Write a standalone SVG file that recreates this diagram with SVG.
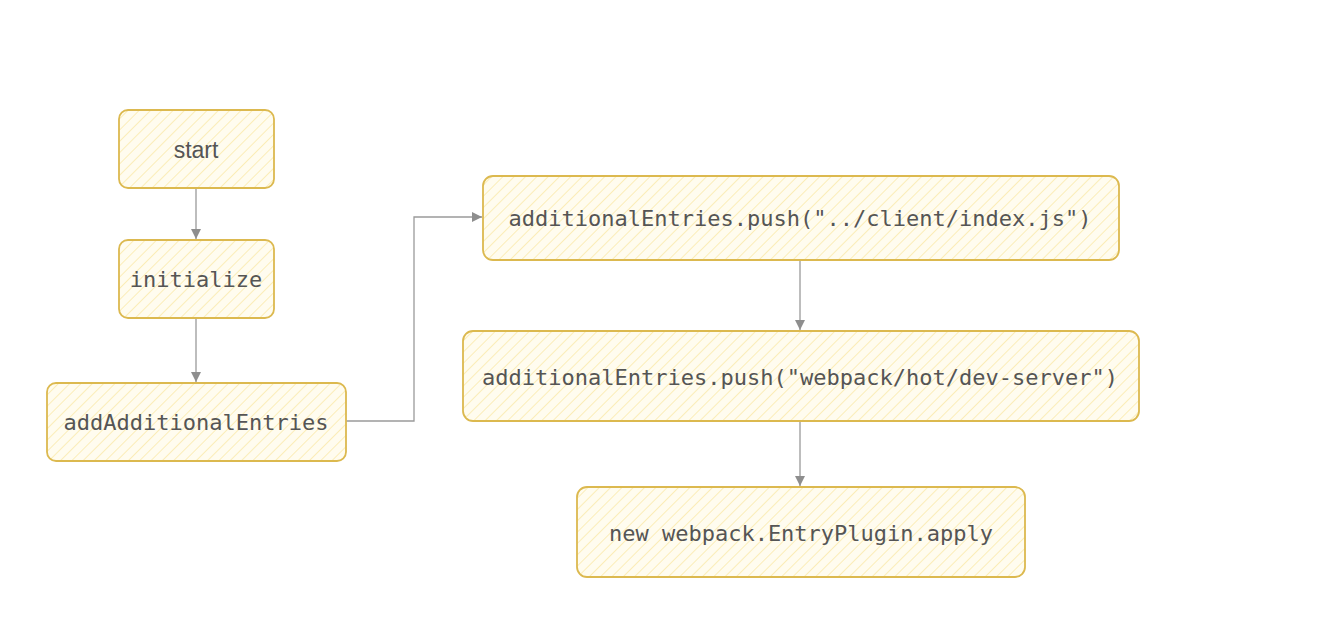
<svg xmlns="http://www.w3.org/2000/svg" width="1332" height="634" viewBox="0 0 1332 634">
<defs>
<pattern id="hatch" patternUnits="userSpaceOnUse" width="8" height="8" patternTransform="rotate(45)">
<rect width="8" height="8" fill="#fffcef"/>
<line x1="0" y1="0" x2="0" y2="8" stroke="#fbedb8" stroke-width="2"/>
</pattern>
<marker id="arr" viewBox="0 0 10 10" refX="10" refY="5" markerWidth="10" markerHeight="10" markerUnits="userSpaceOnUse" orient="auto">
<path d="M0,0 L10,5 L0,10 z" fill="#8e8e8e"/>
</marker>
</defs>
<style>
.box{fill:url(#hatch);stroke:#dcb94f;stroke-width:1.8}
.t{font-family:"DejaVu Sans Mono","Liberation Mono",monospace;font-size:22px;fill:#555555;text-anchor:middle;dominant-baseline:central}
.h{font-family:"Liberation Sans",sans-serif;font-size:23px;fill:#555555;text-anchor:middle;dominant-baseline:central}
.c{fill:none;stroke:#9a9a9a;stroke-width:1.3}
</style>
<rect width="1332" height="634" fill="#ffffff"/>
<g id="connectors">
<path class="c" d="M196,188 L196,239" marker-end="url(#arr)"/>
<path class="c" d="M196,318 L196,382" marker-end="url(#arr)"/>
<path class="c" d="M346,421 L414,421 L414,217 L482,217" marker-end="url(#arr)"/>
<path class="c" d="M800,260 L800,330" marker-end="url(#arr)"/>
<path class="c" d="M800,421 L800,486" marker-end="url(#arr)"/>
</g>
<g id="start">
<rect class="box" x="119" y="110" width="155" height="78" rx="9"/>
<text class="h" x="196" y="150">start</text>
</g>
<g id="initialize">
<rect class="box" x="119" y="240" width="155" height="78" rx="9"/>
<text class="t" x="196" y="279">initialize</text>
</g>
<g id="addAdditionalEntries">
<rect class="box" x="47" y="383" width="299" height="78" rx="9"/>
<text class="t" x="196" y="422">addAdditionalEntries</text>
</g>
<g id="pushClient">
<rect class="box" x="483" y="176" width="636" height="84" rx="10"/>
<text class="t" x="800" y="218">additionalEntries.push("../client/index.js")</text>
</g>
<g id="pushHot">
<rect class="box" x="463" y="331" width="676" height="90" rx="10"/>
<text class="t" x="800" y="377">additionalEntries.push("webpack/hot/dev-server")</text>
</g>
<g id="entryPlugin">
<rect class="box" x="577" y="487" width="448" height="90" rx="10"/>
<text class="t" x="801" y="533">new webpack.EntryPlugin.apply</text>
</g>
</svg>
